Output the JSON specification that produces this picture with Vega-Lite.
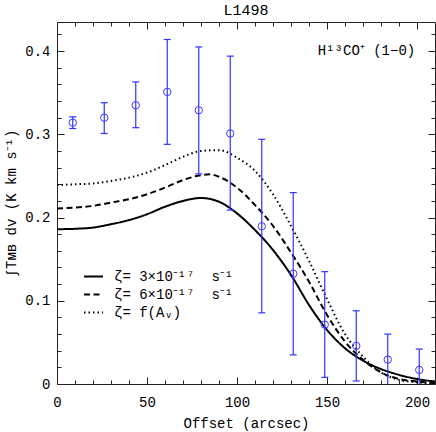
{
  "$schema": "https://vega.github.io/schema/vega-lite/v6.json",
  "width": 378,
  "height": 362,
  "autosize": {"type": "none"},
  "padding": {"left": 57, "top": 22, "right": 1, "bottom": 48},
  "background": "white",
  "title": {"text": "L1498", "fontSize": 15, "font": "Liberation Mono", "fontWeight": "normal", "offset": 4, "color": "black"},
  "config": {
    "view": {"stroke": "#222", "strokeWidth": 1},
    "axis": {"grid": false, "domain": false, "labelFont": "Liberation Mono", "labelFontSize": 14, "labelColor": "black", "titleFont": "Liberation Mono", "titleFontSize": 14, "titleFontWeight": "normal", "titleColor": "black", "tickColor": "#222", "tickWidth": 1}
  },
  "datasets": {
    "curves": [
      {"model": "a", "x": 0, "y": 0.186}, {"model": "a", "x": 10, "y": 0.1865}, {"model": "a", "x": 20, "y": 0.188}, {"model": "a", "x": 30, "y": 0.192}, {"model": "a", "x": 40, "y": 0.197}, {"model": "a", "x": 50, "y": 0.204}, {"model": "a", "x": 60, "y": 0.213}, {"model": "a", "x": 70, "y": 0.22}, {"model": "a", "x": 80, "y": 0.2235}, {"model": "a", "x": 90, "y": 0.219}, {"model": "a", "x": 100, "y": 0.205}, {"model": "a", "x": 110, "y": 0.185}, {"model": "a", "x": 120, "y": 0.161}, {"model": "a", "x": 130, "y": 0.131}, {"model": "a", "x": 140, "y": 0.095}, {"model": "a", "x": 150, "y": 0.065}, {"model": "a", "x": 160, "y": 0.043}, {"model": "a", "x": 170, "y": 0.028}, {"model": "a", "x": 180, "y": 0.018}, {"model": "a", "x": 190, "y": 0.011}, {"model": "a", "x": 200, "y": 0.006}, {"model": "a", "x": 210, "y": 0.003},
      {"model": "b", "x": 0, "y": 0.211}, {"model": "b", "x": 10, "y": 0.212}, {"model": "b", "x": 20, "y": 0.214}, {"model": "b", "x": 30, "y": 0.218}, {"model": "b", "x": 40, "y": 0.222}, {"model": "b", "x": 50, "y": 0.228}, {"model": "b", "x": 60, "y": 0.236}, {"model": "b", "x": 70, "y": 0.245}, {"model": "b", "x": 80, "y": 0.251}, {"model": "b", "x": 85, "y": 0.252}, {"model": "b", "x": 90, "y": 0.249}, {"model": "b", "x": 100, "y": 0.236}, {"model": "b", "x": 110, "y": 0.215}, {"model": "b", "x": 120, "y": 0.19}, {"model": "b", "x": 130, "y": 0.158}, {"model": "b", "x": 140, "y": 0.123}, {"model": "b", "x": 150, "y": 0.083}, {"model": "b", "x": 160, "y": 0.051}, {"model": "b", "x": 170, "y": 0.029}, {"model": "b", "x": 180, "y": 0.014}, {"model": "b", "x": 190, "y": 0.006}, {"model": "b", "x": 200, "y": 0.003}, {"model": "b", "x": 210, "y": 0.001},
      {"model": "c", "x": 0, "y": 0.239}, {"model": "c", "x": 10, "y": 0.24}, {"model": "c", "x": 20, "y": 0.241}, {"model": "c", "x": 30, "y": 0.244}, {"model": "c", "x": 40, "y": 0.248}, {"model": "c", "x": 50, "y": 0.254}, {"model": "c", "x": 60, "y": 0.263}, {"model": "c", "x": 70, "y": 0.273}, {"model": "c", "x": 80, "y": 0.28}, {"model": "c", "x": 90, "y": 0.281}, {"model": "c", "x": 100, "y": 0.272}, {"model": "c", "x": 110, "y": 0.256}, {"model": "c", "x": 120, "y": 0.228}, {"model": "c", "x": 130, "y": 0.19}, {"model": "c", "x": 140, "y": 0.148}, {"model": "c", "x": 150, "y": 0.102}, {"model": "c", "x": 160, "y": 0.06}, {"model": "c", "x": 170, "y": 0.033}, {"model": "c", "x": 180, "y": 0.014}, {"model": "c", "x": 190, "y": 0.005}, {"model": "c", "x": 200, "y": 0.002}, {"model": "c", "x": 210, "y": 0.0005}
    ],
    "obs": [
      {"x": 8.75, "y": 0.314, "lo": 0.307, "hi": 0.321},
      {"x": 26.25, "y": 0.32, "lo": 0.301, "hi": 0.338},
      {"x": 43.75, "y": 0.335, "lo": 0.308, "hi": 0.363},
      {"x": 61.25, "y": 0.351, "lo": 0.288, "hi": 0.414},
      {"x": 78.75, "y": 0.329, "lo": 0.2525, "hi": 0.405},
      {"x": 96.25, "y": 0.301, "lo": 0.209, "hi": 0.394},
      {"x": 113.75, "y": 0.1895, "lo": 0.0855, "hi": 0.294},
      {"x": 131.25, "y": 0.1325, "lo": 0.035, "hi": 0.23},
      {"x": 148.75, "y": 0.0714, "lo": 0.008, "hi": 0.135},
      {"x": 166.25, "y": 0.0458, "lo": 0.0036, "hi": 0.088},
      {"x": 183.75, "y": 0.0293, "lo": -0.005, "hi": 0.06},
      {"x": 201.25, "y": 0.0169, "lo": -0.005, "hi": 0.042}
    ],
    "note": [{"label": "H¹³CO⁺ (1−0)"}]
  },
  "layer": [
    {
      "data": {"name": "curves"},
      "mark": {"type": "line", "color": "black", "strokeWidth": 2, "interpolate": "monotone", "clip": true},
      "encoding": {
        "x": {"field": "x", "type": "quantitative", "scale": {"domain": [0, 210], "nice": false, "zero": false},
          "axis": {"orient": "bottom", "values": [0, 50, 100, 150, 200], "ticks": false, "labelPadding": 11, "labelFlush": false, "labelOverlap": false, "title": "Offset (arcsec)", "titlePadding": 7}},
        "y": {"field": "y", "type": "quantitative", "scale": {"domain": [0, 0.435], "nice": false, "zero": false},
          "axis": {"orient": "left", "values": [0, 0.1, 0.2, 0.3, 0.4], "ticks": false, "labelPadding": 7, "labelFlush": false, "labelOverlap": false, "labelExpr": "datum.value === 0 ? '0' : format(datum.value, '.1f')", "title": "∫Tᴍʙ dv (K km s⁻¹)", "titlePadding": 6}},
        "strokeDash": {"field": "model", "type": "nominal",
          "scale": {"domain": ["a", "b", "c"], "range": [[1, 0], [6, 3.5], [1.5, 3]]},
          "legend": {"orient": "none", "legendX": 26, "legendY": 244, "title": null, "symbolType": "stroke", "symbolStrokeWidth": 2, "symbolStrokeColor": "black", "symbolSize": 360, "labelFont": "Liberation Mono", "labelFontSize": 14, "labelColor": "black", "labelOffset": 10, "rowPadding": 0, "padding": 0, "labelLimit": 300,
            "labelExpr": "datum.value == 'a' ? 'ζ=\u00a03×10⁻¹⁷\u00a0\u00a0s⁻¹' : datum.value == 'b' ? 'ζ=\u00a06×10⁻¹⁷\u00a0\u00a0s⁻¹' : 'ζ=\u00a0f(Aᵥ)'"}}
      }
    },
    {
      "data": {"name": "obs"},
      "mark": {"type": "rule", "color": "#3333ff", "strokeWidth": 1.2, "clip": true},
      "encoding": {
        "x": {"field": "x", "type": "quantitative", "scale": {"domain": [0, 210], "nice": false, "zero": false},
          "axis": {"orient": "bottom", "values": [0, 50, 100, 150, 200], "tickSize": -7, "labels": false, "title": null}},
        "y": {"field": "lo", "type": "quantitative", "scale": {"domain": [0, 0.435], "nice": false, "zero": false},
          "axis": {"orient": "left", "values": [0, 0.1, 0.2, 0.3, 0.4], "tickSize": -7, "labels": false, "title": null}},
        "y2": {"field": "hi"}
      }
    },
    {
      "data": {"name": "obs"},
      "mark": {"type": "tick", "orient": "horizontal", "color": "#3333ff", "size": 7, "thickness": 1.2, "opacity": 1},
      "encoding": {
        "x": {"field": "x", "type": "quantitative", "scale": {"domain": [0, 210], "nice": false, "zero": false},
          "axis": {"orient": "bottom", "values": [10, 20, 30, 40, 60, 70, 80, 90, 110, 120, 130, 140, 160, 170, 180, 190], "tickSize": -4, "labels": false, "title": null}},
        "y": {"field": "hi", "type": "quantitative", "scale": {"domain": [0, 0.435], "nice": false, "zero": false},
          "axis": {"orient": "left", "values": [0.02, 0.04, 0.06, 0.08, 0.12, 0.14, 0.16, 0.18, 0.22, 0.24, 0.26, 0.28, 0.32, 0.34, 0.36, 0.38, 0.42], "tickSize": -4, "labels": false, "title": null}}
      }
    },
    {
      "data": {"name": "obs"},
      "mark": {"type": "tick", "orient": "horizontal", "color": "#3333ff", "size": 7, "thickness": 1.2, "opacity": 1, "clip": true},
      "encoding": {
        "x": {"field": "x", "type": "quantitative", "scale": {"domain": [0, 210], "nice": false, "zero": false},
          "axis": {"orient": "top", "values": [0, 50, 100, 150, 200], "tickSize": -7, "labels": false, "title": null}},
        "y": {"field": "lo", "type": "quantitative", "scale": {"domain": [0, 0.435], "nice": false, "zero": false},
          "axis": {"orient": "right", "values": [0, 0.1, 0.2, 0.3, 0.4], "tickSize": -7, "labels": false, "title": null}}
      }
    },
    {
      "data": {"name": "obs"},
      "mark": {"type": "point", "shape": "circle", "filled": false, "size": 55, "color": "#3b3bff", "strokeWidth": 1, "opacity": 1},
      "encoding": {
        "x": {"field": "x", "type": "quantitative", "scale": {"domain": [0, 210], "nice": false, "zero": false},
          "axis": {"orient": "top", "values": [10, 20, 30, 40, 60, 70, 80, 90, 110, 120, 130, 140, 160, 170, 180, 190], "tickSize": -4, "labels": false, "title": null}},
        "y": {"field": "y", "type": "quantitative", "scale": {"domain": [0, 0.435], "nice": false, "zero": false},
          "axis": {"orient": "right", "values": [0.02, 0.04, 0.06, 0.08, 0.12, 0.14, 0.16, 0.18, 0.22, 0.24, 0.26, 0.28, 0.32, 0.34, 0.36, 0.38, 0.42], "tickSize": -4, "labels": false, "title": null}}
      }
    },
    {
      "data": {"name": "note"},
      "mark": {"type": "text", "align": "right", "baseline": "middle", "font": "Liberation Mono", "fontSize": 14, "color": "black"},
      "encoding": {
        "x": {"datum": 199, "type": "quantitative", "scale": {"domain": [0, 210], "nice": false, "zero": false}, "axis": null},
        "y": {"datum": 0.4, "type": "quantitative", "scale": {"domain": [0, 0.435], "nice": false, "zero": false}, "axis": null},
        "text": {"field": "label"}
      }
    }
  ],
  "resolve": {"axis": {"x": "independent", "y": "independent"}}
}
